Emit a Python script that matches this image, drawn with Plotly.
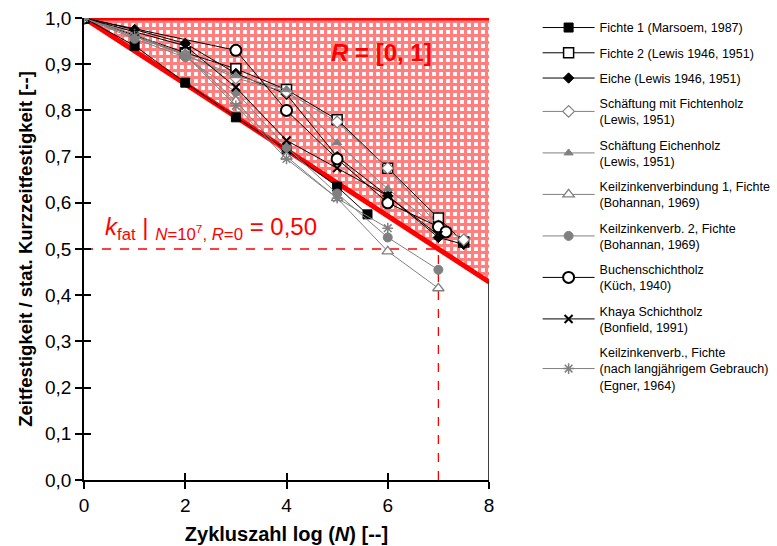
import plotly.graph_objects as go

# ---- data ----
fichte1_x = [0, 1, 2, 3, 4, 5, 5.6]
fichte1_y = [1.0, 0.94, 0.86, 0.785, 0.715, 0.635, 0.575]

fichte2_x = [0, 2, 3, 4, 5, 6, 7, 7.5]
fichte2_y = [1.0, 0.925, 0.89, 0.845, 0.78, 0.675, 0.567, 0.515]

eiche_x = [0, 1, 2, 3, 4, 5, 6, 7, 7.5]
eiche_y = [1.0, 0.975, 0.945, 0.88, 0.835, 0.70, 0.615, 0.525, 0.51]

schaeft_fi_x = [0, 2, 3, 4, 5, 6, 7, 7.5]
schaeft_fi_y = [1.0, 0.92, 0.87, 0.84, 0.775, 0.675, 0.55, 0.52]

schaeft_ei_x = [0, 2, 3, 4, 5, 6, 7]
schaeft_ei_y = [1.0, 0.92, 0.875, 0.845, 0.73, 0.63, 0.545]

kz1_x = [0, 1, 2, 3, 4, 5, 6, 7]
kz1_y = [1.0, 0.965, 0.92, 0.82, 0.70, 0.61, 0.495, 0.415]

kz2_x = [0, 1, 2, 3, 4, 5, 6, 7]
kz2_y = [1.0, 0.955, 0.915, 0.84, 0.72, 0.62, 0.525, 0.455]

buche_x = [0, 3, 4, 5, 6, 7, 7.15]
buche_y = [1.0, 0.93, 0.80, 0.695, 0.60, 0.548, 0.537]

khaya_x = [0, 1, 2, 3, 4, 5, 6, 7]
khaya_y = [1.0, 0.97, 0.94, 0.85, 0.735, 0.675, 0.615, 0.53]

egner_x = [0, 1, 2, 3, 4, 5, 6]
egner_y = [1.0, 0.96, 0.92, 0.81, 0.695, 0.61, 0.545]

# R = [0,1] region boundary (k_fat = 0.5 at log N = 7)
bound_x = [0, 8]
bound_y = [1.0, 0.4286]
top_y = [1.0, 1.0]
kfat_x = 7
kfat_y = 0.5

x_ticks = [0, 2, 4, 6, 8]
y_ticks = [0.0, 0.1, 0.2, 0.3, 0.4, 0.5, 0.6, 0.7, 0.8, 0.9, 1.0]

BLACK = "#000000"
GRAY = "#808080"
RED = "#ff0000"
FONT = "Liberation Sans, Arial"

fig = go.Figure()

# hatched region
fig.add_trace(go.Scatter(
    x=[bound_x[0], bound_x[1], bound_x[1], bound_x[0]],
    y=[top_y[0], top_y[1], bound_y[1], bound_y[0]],
    fill="toself", mode="none", fillcolor="rgba(255,255,255,0)",
    fillpattern=dict(shape="+", fgcolor=RED, bgcolor="white", size=7, solidity=0.7),
    showlegend=False, hoverinfo="skip"))

series = [
    ("Fichte 1 (Marsoem, 1987)", fichte1_x, fichte1_y, BLACK, "square", BLACK, 9, 1),
    ("Fichte 2 (Lewis 1946, 1951)", fichte2_x, fichte2_y, BLACK, "square", "white", 10, 1.5),
    ("Eiche (Lewis 1946, 1951)", eiche_x, eiche_y, BLACK, "diamond", BLACK, 8, 1),
    ("Schäftung mit Fichtenholz<br>(Lewis, 1951)", schaeft_fi_x, schaeft_fi_y, GRAY, "diamond", "white", 9, 1.2),
    ("Schäftung Eichenholz<br>(Lewis, 1951)", schaeft_ei_x, schaeft_ei_y, GRAY, "triangle-up", GRAY, 8, 1),
    ("Keilzinkenverbindung 1, Fichte<br>(Bohannan, 1969)", kz1_x, kz1_y, GRAY, "triangle-up", "white", 10, 1.3),
    ("Keilzinkenverb. 2, Fichte<br>(Bohannan, 1969)", kz2_x, kz2_y, GRAY, "circle", GRAY, 9, 1),
    ("Buchenschichtholz<br>(Küch, 1940)", buche_x, buche_y, BLACK, "circle", "white", 11, 2),
    ("Khaya Schichtholz<br>(Bonfield, 1991)", khaya_x, khaya_y, BLACK, "x-thin", BLACK, 8, 2),
    ("Keilzinkenverb., Fichte<br>(nach langjährigem Gebrauch)<br>(Egner, 1964)", egner_x, egner_y, GRAY, "asterisk", GRAY, 9, 1.5),
]

# bounding red lines
fig.add_trace(go.Scatter(x=bound_x, y=bound_y, mode="lines",
                         line=dict(color=RED, width=5), showlegend=False, hoverinfo="skip"))
fig.add_trace(go.Scatter(x=bound_x, y=top_y, mode="lines",
                         line=dict(color=RED, width=5), showlegend=False, hoverinfo="skip"))

for i, (name, xs, ys, col, sym, fillc, size, lw) in enumerate(series):
    fig.add_trace(go.Scatter(
        x=xs, y=ys, mode="lines+markers", name=name, legendgroup=f"g{i}",
        line=dict(color=col, width=1),
        marker=dict(symbol=sym, color=fillc, size=size,
                    line=dict(color=col, width=lw))))

# dashed k_fat lines
fig.add_shape(type="line", x0=0, x1=8, y0=kfat_y, y1=kfat_y,
              line=dict(color=RED, width=1.3, dash="dash"), layer="below")
fig.add_shape(type="line", x0=kfat_x, x1=kfat_x, y0=0, y1=1,
              line=dict(color=RED, width=1.3, dash="dash"), layer="below")
# right frame
fig.add_shape(type="line", x0=8, x1=8, y0=0, y1=bound_y[1],
              line=dict(color=BLACK, width=1.5))

fig.add_annotation(x=5.87, y=0.926, text="<b><i>R</i> = [0, 1]</b>", showarrow=False,
                   font=dict(size=24, color=RED, family=FONT))
fig.add_annotation(x=2.5, y=0.545,
                   text="<i>k</i><sub>fat</sub> | <sub><i>N</i>=10<sup>7</sup>, <i>R</i>=0</sub> = 0,50",
                   showarrow=False, font=dict(size=24, color=RED, family=FONT))

fig.update_layout(
    width=777, height=546,
    margin=dict(l=84, r=288, t=18, b=66, autoexpand=False),
    paper_bgcolor="white", plot_bgcolor="white",
    separators=",.",
    font=dict(family=FONT, color=BLACK),
    showlegend=True,
    legend=dict(x=1.12, y=1.011, xanchor="left", yanchor="top",
                font=dict(size=12.5, color=BLACK), itemwidth=52,
                traceorder="grouped", tracegroupgap=6, maxheight=540,
                bgcolor="rgba(0,0,0,0)"),
    xaxis=dict(range=[0, 8], tickvals=x_ticks, ticktext=[str(v) for v in x_ticks],
               showgrid=False, zeroline=False, showline=True, linecolor=BLACK, linewidth=1.5,
               ticks="outside", ticklen=7, tickwidth=1.5, tickcolor=BLACK,
               tickfont=dict(size=19), automargin=False,
               title=dict(text="<b>Zykluszahl log (<i>N</i>) [--]</b>", font=dict(size=20), standoff=12)),
    yaxis=dict(range=[0, 1.0], tickvals=y_ticks, tickformat=".1f",
               showgrid=False, zeroline=False, showline=True, linecolor=BLACK, linewidth=1.5,
               ticks="outside", ticklen=7, tickwidth=1.5, tickcolor=BLACK,
               tickfont=dict(size=19), automargin=False,
               title=dict(text="<b>Zeitfestigkeit / stat. Kurzzeitfestigkeit [--]</b>", font=dict(size=18.5), standoff=8)),
    xaxis2=dict(range=[0, 8], tickvals=x_ticks, overlaying="x", showticklabels=False,
                ticks="inside", ticklen=7, tickwidth=1.5, tickcolor=BLACK, showgrid=False,
                zeroline=False, showline=False, side="bottom", anchor="y", automargin=False),
    yaxis2=dict(range=[0, 1.0], tickvals=y_ticks, overlaying="y", showticklabels=False,
                ticks="inside", ticklen=7, tickwidth=1.5, tickcolor=BLACK, showgrid=False,
                zeroline=False, showline=False, side="left", anchor="x", automargin=False),
)
fig.add_trace(go.Scatter(x=[None], y=[None], xaxis="x2", yaxis="y2", showlegend=False, hoverinfo="skip"))

fig.write_html("out.html")
